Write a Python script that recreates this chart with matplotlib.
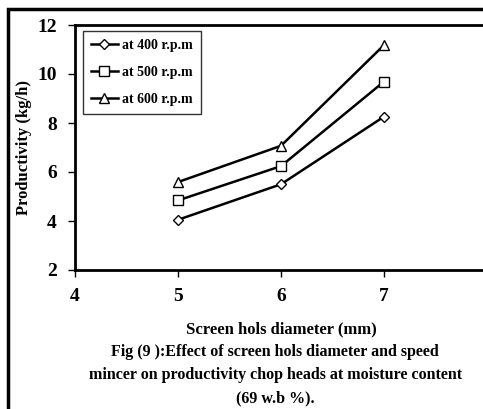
import matplotlib.pyplot as plt
from matplotlib.patches import Rectangle

# -------------------- DATA --------------------
hole_diameter = [5, 6, 7]
prod_400 = [4.05, 5.50, 8.26]
prod_500 = [4.84, 6.24, 9.69]
prod_600 = [5.59, 7.07, 11.18]

labels = ["at 400 r.p.m", "at 500 r.p.m", "at 600 r.p.m"]
markers = ["D", "s", "^"]

plt.rcParams["font.family"] = ["Liberation Serif", "DejaVu Serif"]
plt.rcParams["font.weight"] = "bold"

fig = plt.figure(figsize=(4.83, 4.09), dpi=100)
ax = fig.add_axes([75 / 483, 1 - 270 / 409, 412 / 483, 245 / 409])

for vals, lab, mk in zip([prod_400, prod_500, prod_600], labels, markers):
    ax.plot(hole_diameter, vals, color="black", linewidth=1.8, marker=mk,
            markersize=6.5 if mk != "D" else 5, markerfacecolor="white",
            markeredgecolor="black", markeredgewidth=1.0, label=lab)

ax.set_xlim(4, 8)
ax.set_ylim(2, 12)
ax.set_xticks([4, 5, 6, 7, 8])
ax.set_yticks([2, 4, 6, 8, 10, 12])
ax.tick_params(labelsize=14, length=5, width=1, pad=8)
for s in ax.spines.values():
    s.set_linewidth(2)

ax.set_ylabel("Productivity (kg/h)", fontsize=12, fontweight="bold")
ax.yaxis.set_label_coords(-0.104, 0.5)
ax.set_xlabel("Screen hols diameter (mm)", fontsize=12, fontweight="bold", labelpad=12)

leg = ax.legend(loc="upper left", bbox_to_anchor=(0.019, 0.976), borderaxespad=0,
                fontsize=10, frameon=True, fancybox=False, edgecolor="black",
                handlelength=1.9, borderpad=0.6, labelspacing=1.0, handletextpad=0.3)
leg.get_frame().set_linewidth(1.0)

caption = ("Fig (9 ):Effect of screen hols diameter and speed\n"
           "mincer on productivity chop heads at moisture content\n"
           "(69 w.b %).")
fig.text(0.57, 1 - 344 / 409, caption, ha="center", va="top", fontsize=11.5,
         fontweight="bold", linespacing=1.62)

# outer figure frame
fig.patches.append(Rectangle((8 / 483, -0.1), 1.2, 1.1 - 9 / 409,
                             transform=fig.transFigure, fill=False,
                             edgecolor="black", linewidth=2.5))

fig.savefig("out.png", dpi=100)
